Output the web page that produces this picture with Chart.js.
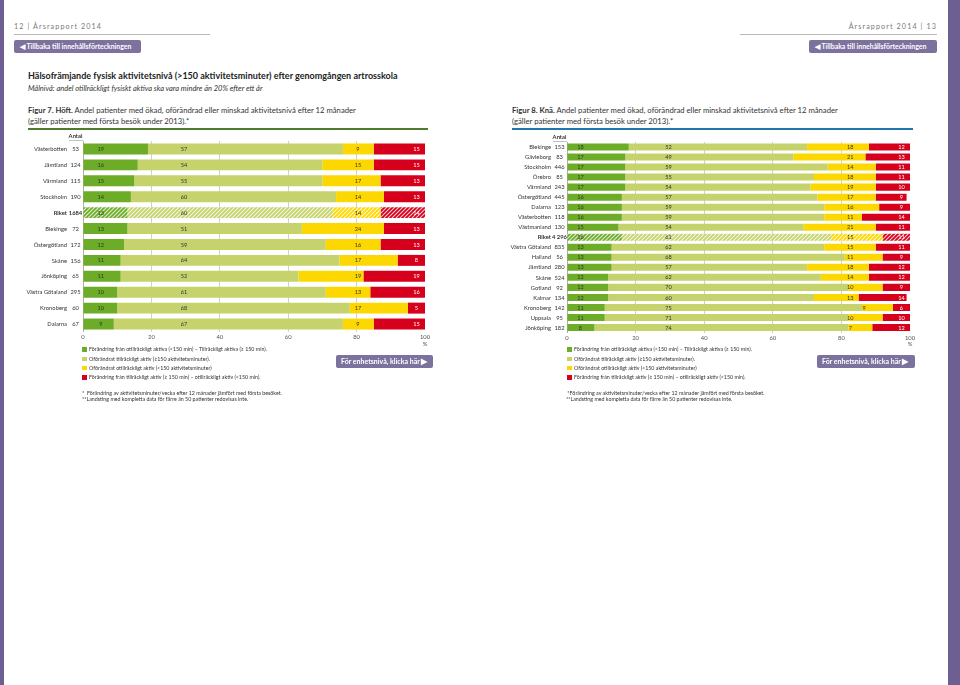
<!DOCTYPE html>
<html lang="sv">
<head>
<meta charset="utf-8">
<title>Årsrapport 2014 – aktivitetsnivå</title>
<script src="https://cdn.jsdelivr.net/npm/chart.js"></script>
<style>
  html, body { margin: 0; padding: 0; background: #fff; }
  body { width: 960px; height: 685px; position: relative; overflow: hidden; font-family: Lato, "Open Sans", sans-serif; color: #333; }
  .t { position: absolute; white-space: nowrap; }
  .rule { position: absolute; }
  .btn { position: absolute; background: #7d719e; color: #fff; font-weight: bold; border-radius: 2px; white-space: nowrap; }
  .sq { position: absolute; width: 4.5px; height: 4.5px; }
  canvas { position: absolute; }
</style>
</head>
<body>

<div class="rule" style="left:0;top:0;width:4px;height:685px;background:#6e5f92"></div>
<div class="rule" style="left:948px;top:0;width:12px;height:685px;background:#6e5f92"></div>

<div class="t" style="left:14px;top:22px;font-size:7.2px;letter-spacing:1.1px;color:#7a7a7a">12 | Årsrapport 2014</div>
<div class="rule" style="left:14px;top:34px;width:196px;height:1px;background:#b8b8b8"></div>
<div class="t" style="right:23px;top:22px;font-size:7.2px;letter-spacing:1.1px;color:#7a7a7a">Årsrapport 2014 | 13</div>
<div class="rule" style="left:740px;top:34px;width:197px;height:1px;background:#b8b8b8"></div>

<div class="btn" style="left:14px;top:40px;width:127px;height:13px;font-size:6.9px;line-height:13px"><span style="margin-left:6px;font-size:7px">&#9664;</span> Tillbaka till innehållsförteckningen</div>
<div class="btn" style="left:809px;top:40px;width:128px;height:13px;font-size:6.9px;line-height:13px"><span style="margin-left:6px;font-size:7px">&#9664;</span> Tillbaka till innehållsförteckningen</div>

<div class="t" style="left:28px;top:70px;font-size:9px;font-weight:bold;color:#222">Hälsofrämjande fysisk aktivitetsnivå (&gt;150 aktivitetsminuter) efter genomgången artrosskola</div>
<div class="t" style="left:28px;top:84px;font-size:7.5px;font-style:italic;color:#333">Målnivå: andel otillräckligt fysiskt aktiva ska vara mindre än 20% efter ett år</div>

<div class="t" style="left:28px;top:105px;font-size:7.7px;color:#333"><b>Figur 7. Höft.</b> Andel patienter med ökad, oförändrad eller minskad aktivitetsnivå efter 12 månader</div>
<div class="t" style="left:28px;top:116px;font-size:7.7px;color:#333">(gäller patienter med första besök under 2013).*</div>
<div class="rule" style="left:28px;top:128px;width:400px;height:2px;background:#4f7b2f"></div>

<div class="t" style="left:512px;top:105px;font-size:7.7px;color:#333"><b>Figur 8. Knä.</b> Andel patienter med ökad, oförändrad eller minskad aktivitetsnivå efter 12 månader</div>
<div class="t" style="left:512px;top:116px;font-size:7.7px;color:#333">(gäller patienter med första besök under 2013).*</div>
<div class="rule" style="left:512px;top:128px;width:401px;height:2px;background:#1f77ad"></div>

<canvas id="hoft" width="420" height="220" style="left:20px;top:130px"></canvas>
<canvas id="kna" width="420" height="220" style="left:500px;top:130px"></canvas>

<div id="legend-hoft"></div>
<div id="legend-kna"></div>

<div class="btn" style="left:336px;top:355px;width:97px;height:13px;font-size:7px;line-height:13px"><span style="margin-left:5px">För enhetsnivå, klicka här</span> <span style="font-size:8px">&#9654;</span></div>
<div class="btn" style="left:817px;top:355px;width:98px;height:13px;font-size:7px;line-height:13px"><span style="margin-left:5px">För enhetsnivå, klicka här</span> <span style="font-size:8px">&#9654;</span></div>

<div class="t" style="left:82px;top:390px;font-size:5.3px">*&nbsp; Förändring av aktivitetsminuter/vecka efter 12 månader jämfört med första besöket.</div>
<div class="t" style="left:82px;top:396px;font-size:5.3px">**Landsting med kompletta data för färre än 50 patienter redovisas inte.</div>
<div class="t" style="left:566px;top:390px;font-size:5.3px">&nbsp;*Förändring av aktivitetsminuter/vecka efter 12 månader jämfört med första besöket.</div>
<div class="t" style="left:566px;top:396px;font-size:5.3px">**Landsting med kompletta data för färre än 50 patienter redovisas inte.</div>

<script>
// Figur 7, Höft
const hoftRegions = ['Västerbotten', 'Jämtland', 'Värmland', 'Stockholm', 'Riket', 'Blekinge', 'Östergötland', 'Skåne', 'Jönköping', 'Västra Götaland', 'Kronoberg', 'Dalarna'];
const hoftAntal = ['53', '124', '115', '190', '1684', '72', '172', '156', '65', '295', '60', '67'];
const hoftOkad = [19, 16, 15, 14, 13, 13, 12, 11, 11, 10, 10, 9];
const hoftTillrackligt = [57, 54, 55, 60, 60, 51, 59, 64, 52, 61, 68, 67];
const hoftOtillrackligt = [9, 15, 17, 14, 14, 24, 16, 17, 19, 13, 17, 9];
const hoftMinskad = [15, 15, 13, 13, 14, 13, 13, 8, 19, 16, 5, 15];

// Figur 8, Knä
const knaRegions = ['Blekinge', 'Gävleborg', 'Stockholm', 'Örebro', 'Värmland', 'Östergötland', 'Dalarna', 'Västerbotten', 'Västmanland', 'Riket', 'Västra Götaland', 'Halland', 'Jämtland', 'Skåne', 'Gotland', 'Kalmar', 'Kronoberg', 'Uppsala', 'Jönköping'];
const knaAntal = ['153', '83', '446', '85', '243', '445', '123', '118', '130', '4 296', '835', '56', '280', '524', '92', '134', '142', '95', '182'];
const knaOkad = [18, 17, 17, 17, 17, 16, 16, 16, 15, 16, 13, 13, 13, 12, 12, 12, 11, 11, 8];
const knaTillrackligt = [52, 49, 59, 55, 54, 57, 59, 59, 54, 61, 62, 68, 57, 62, 70, 60, 75, 71, 74];
const knaOtillrackligt = [18, 21, 14, 18, 19, 17, 16, 11, 21, 15, 15, 11, 18, 14, 10, 13, 9, 10, 7];
const knaMinskad = [12, 13, 11, 11, 10, 9, 9, 14, 11, 11, 11, 9, 12, 12, 9, 14, 6, 10, 12];

const seriesNames = [
    'Förändring från otillräckligt aktiva (<150 min) – Tillräckligt aktiva (≥ 150 min).',
    'Oförändrat tillräckligt aktiv (≥150 aktivitetsminuter).',
    'Oförändrat otillräckligt aktiv (<150 aktivitetsminuter)',
    'Förändring från tillräckligt aktiv (≥ 150 min) – otillräckligt aktiv (<150 min).'
];
const seriesColors = ['#6dac26', '#c6d36c', '#fdd800', '#d6001c'];
const labelColors = ['#333', '#333', '#333', '#fff'];

const FONT = 'Lato, "Open Sans", sans-serif';

function hatch(color) {
    var c = document.createElement('canvas');
    c.width = 4; c.height = 4;
    var g = c.getContext('2d');
    g.fillStyle = color;
    g.fillRect(0, 0, 4, 4);
    g.strokeStyle = 'rgba(255,255,255,0.8)';
    g.lineWidth = 1.1;
    g.beginPath();
    g.moveTo(0, 4); g.lineTo(4, 0);
    g.moveTo(-1, 1); g.lineTo(1, -1);
    g.moveTo(3, 5); g.lineTo(5, 3);
    g.stroke();
    return g.createPattern(c, 'repeat');
}

// labels at fixed positions along the bar, the way the report does it
const segmentLabels = {
    id: 'segmentLabels',
    afterDatasetsDraw(chart, args, opts) {
        var ctx = chart.ctx, xs = chart.scales.x, ys = chart.scales.y;
        ctx.save();
        ctx.font = '5.6px ' + FONT;
        ctx.textAlign = 'center';
        ctx.textBaseline = 'middle';
        chart.data.labels.forEach(function (lab, j) {
            var start = 0;
            chart.data.datasets.forEach(function (ds, i) {
                var v = ds.data[j];
                var pos = opts.positions[i];
                if (i === 2) pos = Math.max(pos, start + 0.6);
                ctx.fillStyle = labelColors[i];
                ctx.fillText(String(v), xs.getPixelForValue(pos), ys.getPixelForValue(j) + 0.3);
                start += v;
            });
        });
        ctx.restore();
    }
};

// region names, Antal column, "%" under the axis
const regionColumn = {
    id: 'regionColumn',
    afterDraw(chart, args, opts) {
        var ctx = chart.ctx, ys = chart.scales.y, xs = chart.scales.x, area = chart.chartArea;
        ctx.save();
        ctx.textBaseline = 'middle';
        ctx.fillStyle = '#333';
        chart.data.labels.forEach(function (lab, j) {
            var y = ys.getPixelForValue(j) + 0.3;
            var bold = j === opts.riketIndex;
            ctx.font = (bold ? 'bold ' : '') + '5.8px ' + FONT;
            ctx.textAlign = 'right';
            ctx.fillText(lab, area.left - 16, y);
            ctx.textAlign = 'center';
            ctx.fillText(opts.antal[j], area.left - 7.5, y);
        });
        ctx.font = 'bold 5.8px ' + FONT;
        ctx.textAlign = 'center';
        ctx.fillText('Antal', area.left - 7.5, area.top - 4.5);
        ctx.font = '5.8px ' + FONT;
        ctx.fillStyle = '#555';
        ctx.fillText('%', xs.getPixelForValue(100), area.bottom + 12);
        ctx.strokeStyle = '#9a9a9a';
        ctx.lineWidth = 0.6;
        ctx.beginPath();
        ctx.moveTo(area.left - 14, area.top - 0.5);
        ctx.lineTo(area.left, area.top - 0.5);
        ctx.stroke();
        ctx.restore();
    }
};

function makeChart(id, regions, antal, series, riketIndex, pad, barPct, positions) {
    var patterns = seriesColors.map(hatch);
    var datasets = series.map(function (vals, i) {
        return {
            label: seriesNames[i],
            data: vals,
            backgroundColor: function (c) {
                return c.dataIndex === riketIndex ? patterns[i] : seriesColors[i];
            },
            borderWidth: 0,
            categoryPercentage: 1,
            barPercentage: barPct
        };
    });
    return new Chart(document.getElementById(id), {
        type: 'bar',
        data: { labels: regions, datasets: datasets },
        plugins: [segmentLabels, regionColumn],
        options: {
            indexAxis: 'y',
            responsive: false,
            animation: false,
            layout: { padding: pad },
            scales: {
                x: {
                    stacked: true,
                    min: 0,
                    max: 100,
                    ticks: { stepSize: 20, padding: 2, color: '#555', font: { family: FONT, size: 5.8 } },
                    grid: {
                        drawTicks: false,
                        lineWidth: 0.8,
                        color: function (c) {
                            if (!c.tick) return 'rgba(0,0,0,0)';
                            if (c.tick.value === 0) return '#9a9a9a';
                            if (c.tick.value === 100) return 'rgba(0,0,0,0)';
                            return '#c4c4c4';
                        }
                    },
                    border: { display: false },
                    afterFit: function (s) { s.height = 12; }
                },
                y: { stacked: true, display: false }
            },
            plugins: {
                legend: { display: false },
                tooltip: { enabled: false },
                segmentLabels: { positions: positions },
                regionColumn: { antal: antal, riketIndex: riketIndex }
            }
        }
    });
}

function makeLegend(id, left) {
    var el = document.getElementById(id);
    var tops = [349.7, 358.9, 368.2, 377.6];
    seriesNames.forEach(function (name, i) {
        var sq = document.createElement('div');
        sq.className = 'sq';
        sq.style.left = left + 'px';
        sq.style.top = (tops[i] - 2.25) + 'px';
        sq.style.background = seriesColors[i];
        el.appendChild(sq);
        var t = document.createElement('div');
        t.className = 't';
        t.style.left = (left + 7) + 'px';
        t.style.top = (tops[i] - 3.3) + 'px';
        t.style.fontSize = '5.3px';
        t.style.lineHeight = '6.6px';
        t.textContent = name;
        el.appendChild(t);
    });
}

makeChart('hoft', hoftRegions, hoftAntal,
    [hoftOkad, hoftTillrackligt, hoftOtillrackligt, hoftMinskad], 4,
    { left: 63, right: 15, top: 11, bottom: 6 }, 0.69, [5.2, 29.5, 80.4, 97.5]);
makeChart('kna', knaRegions, knaAntal,
    [knaOkad, knaTillrackligt, knaOtillrackligt, knaMinskad], 9,
    { left: 67, right: 10, top: 12, bottom: 5.5 }, 0.7, [3.9, 29.6, 82.6, 97.5]);

makeLegend('legend-hoft', 82);
makeLegend('legend-kna', 567);
</script>
</body>
</html>
